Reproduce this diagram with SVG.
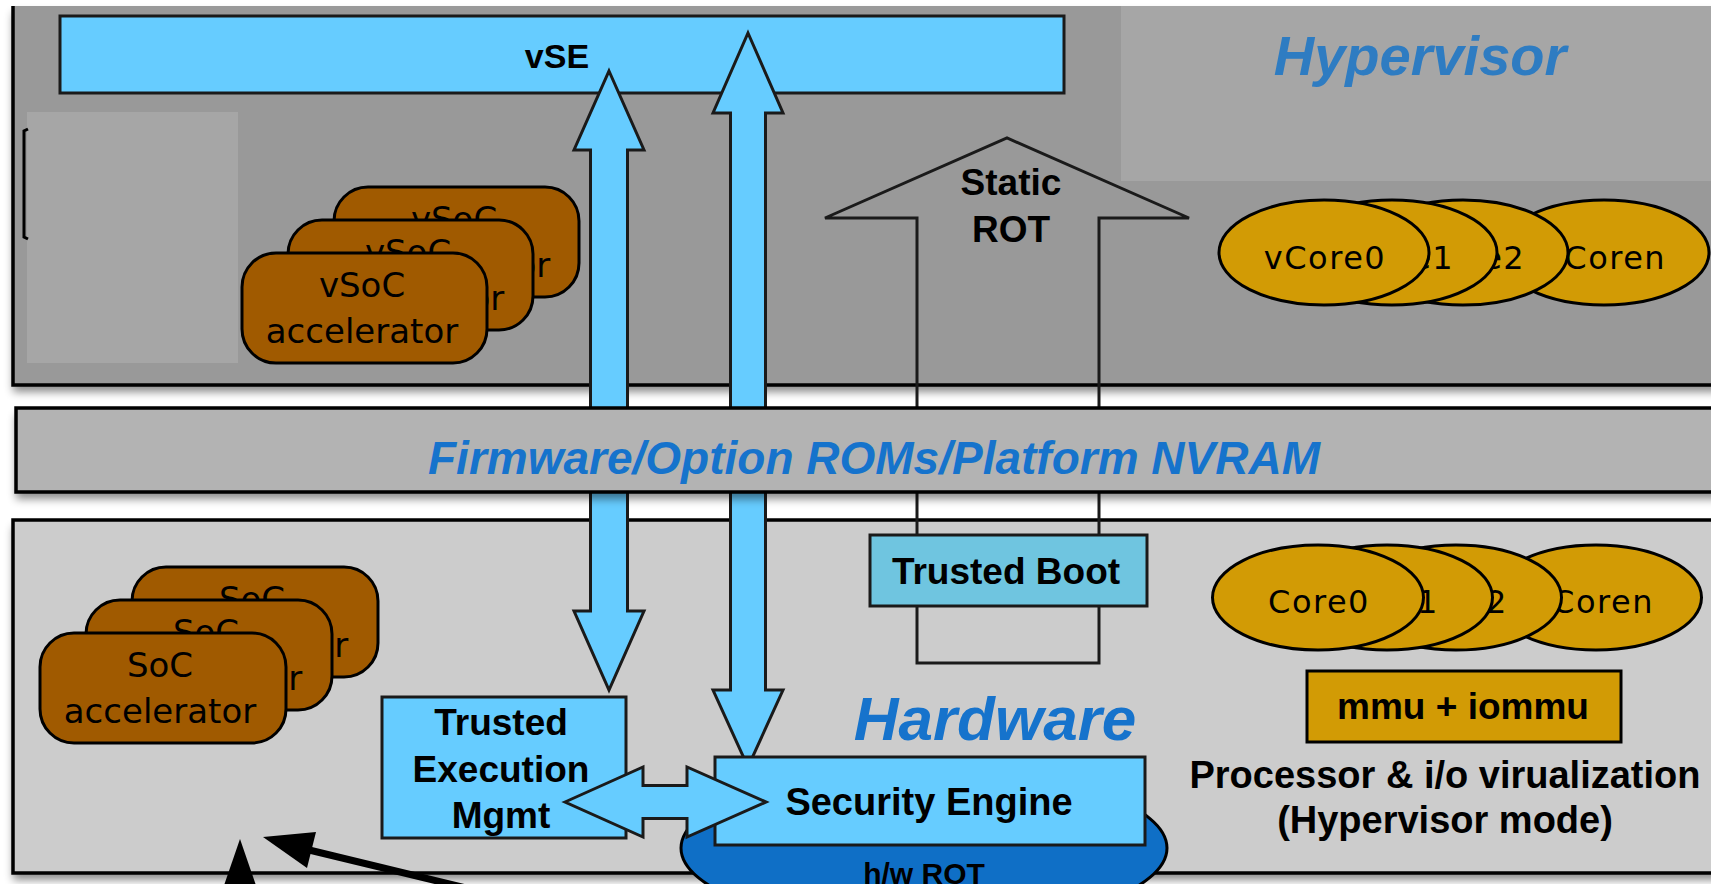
<svg xmlns="http://www.w3.org/2000/svg" width="1711" height="884" viewBox="0 0 1711 884">
  <defs>
    <style>
      .lbl{font-family:"Liberation Sans",Arial,sans-serif;font-weight:bold;fill:#000;text-anchor:middle}
      .title{font-family:"Liberation Sans",Arial,sans-serif;font-weight:bold;font-style:italic;text-anchor:middle}
      .card rect{fill:#A05A00;stroke:#000;stroke-width:3}
      .card text{font-family:"DejaVu Sans",sans-serif;font-size:34px;fill:#000;text-anchor:middle}
      .core ellipse{fill:#D29B05;stroke:#000;stroke-width:3}
      .core text{font-family:"DejaVu Sans",sans-serif;font-size:32px;letter-spacing:1.5px;fill:#000;text-anchor:middle}
      .blue{fill:#66CCFF;stroke:#1a1a1a;stroke-width:3}
      .edge{fill:none;stroke:#000;stroke-width:3.5}
    </style>
    <filter id="shadow" x="-5%" y="-10%" width="110%" height="130%">
      <feDropShadow dx="0" dy="7" stdDeviation="4" flood-color="#000" flood-opacity="0.45"/>
    </filter>
  </defs>

  <rect x="0" y="0" width="1711" height="884" fill="#ffffff"/>

  <!-- Hypervisor layer -->
  <g id="hypervisor-layer">
    <rect x="13" y="6" width="1720" height="379" fill="#999999" filter="url(#shadow)"/>
    <path class="edge" d="M13,6 V385 H1720"/>
    <rect x="27" y="112" width="211" height="251" fill="#a6a6a6"/>
    <rect x="1121" y="6" width="600" height="175" fill="#a6a6a6"/>
    <path d="M28,129 L24,131 V237 L28,239" fill="none" stroke="#000" stroke-width="3"/>
    <text class="title" x="1420" y="75" font-size="56" fill="#2E7CC2">Hypervisor</text>
  </g>

  <!-- Hardware layer -->
  <g id="hardware-layer">
    <rect x="13" y="520" width="1720" height="353" fill="#cccccc" filter="url(#shadow)"/>
    <path class="edge" d="M1720,520 H13 V873 H1720"/>
    <text class="title" x="995" y="740" font-size="62" fill="#1673CC">Hardware</text>
  </g>

  <!-- vSE -->
  <g id="vse">
    <rect class="blue" x="60" y="16" width="1004" height="77"/>
    <text class="lbl" x="557" y="68" font-size="34">vSE</text>
  </g>

  <!-- Static ROT outline arrow -->
  <g id="static-rot">
    <path d="M917,663 V218 H825 L1007,138 L1189,218 H1099 V663 Z" fill="none" stroke="#1a1a1a" stroke-width="3"/>
    <text class="lbl" x="1011" y="195" font-size="37">Static</text>
    <text class="lbl" x="1011" y="242" font-size="37">ROT</text>
  </g>

  <!-- Connectors -->
  <g id="connectors">
    <polygon class="blue" points="609,71 644,150 627.5,150 627.5,611 644,611 609,690 574,611 590.5,611 590.5,150 574,150"/>
    <polygon class="blue" points="748,33 783,113 765.5,113 765.5,690 783,690 748,767 713,690 730.5,690 730.5,113 713,113"/>
  </g>

  <!-- Firmware band -->
  <g id="firmware">
    <rect x="16" y="408" width="1720" height="84" fill="#b3b3b3" filter="url(#shadow)"/>
    <path class="edge" d="M1720,408 H16 V492 H1720"/>
    <text class="title" x="874" y="474" font-size="46" fill="#1673CC">Firmware/Option ROMs/Platform NVRAM</text>
  </g>

  <!-- Trusted Boot -->
  <g id="trusted-boot">
    <rect x="870" y="535" width="277" height="71" fill="#6FC5E0" stroke="#1a1a1a" stroke-width="3"/>
    <text class="lbl" x="1006" y="584" font-size="37">Trusted Boot</text>
  </g>

  <!-- h/w ROT -->
  <g id="hw-rot">
    <ellipse cx="924" cy="848" rx="243" ry="80" fill="#0F6FC6" stroke="#000" stroke-width="3"/>
    <text class="lbl" x="924" y="884" font-size="30">h/w ROT</text>
  </g>

  <!-- Security Engine -->
  <g id="security-engine">
    <rect class="blue" x="715" y="757" width="430" height="88"/>
    <text class="lbl" x="929" y="815" font-size="38">Security Engine</text>
  </g>

  <!-- Trusted Execution Mgmt -->
  <g id="trusted-exec">
    <rect class="blue" x="382" y="697" width="244" height="141"/>
    <text class="lbl" x="501" y="735" font-size="37">Trusted</text>
    <text class="lbl" x="501" y="782" font-size="37">Execution</text>
    <text class="lbl" x="501" y="828" font-size="37">Mgmt</text>
  </g>

  <g id="link-tem-se">
    <polygon class="blue" points="565,802 643,767 643,785.5 687,785.5 687,767 766,802 687,837 687,818.5 643,818.5 643,837"/>
  </g>

  <!-- vSoC accelerators -->
  <g id="vsoc-2" class="card">
    <rect x="334" y="187" width="245" height="110" rx="34"/>
    <text x="454" y="231">vSoC</text>
    <text x="454" y="277">accelerator</text>
  </g>
  <g id="vsoc-1" class="card">
    <rect x="288" y="220" width="245" height="110" rx="34"/>
    <text x="408" y="264">vSoC</text>
    <text x="408" y="310">accelerator</text>
  </g>
  <g id="vsoc-0" class="card">
    <rect x="242" y="253" width="245" height="110" rx="34"/>
    <text x="362" y="297">vSoC</text>
    <text x="362" y="343">accelerator</text>
  </g>

  <!-- SoC accelerators -->
  <g id="soc-2" class="card">
    <rect x="132" y="567" width="246" height="110" rx="34"/>
    <text x="252" y="611">SoC</text>
    <text x="252" y="657">accelerator</text>
  </g>
  <g id="soc-1" class="card">
    <rect x="86" y="600" width="246" height="110" rx="34"/>
    <text x="206" y="644">SoC</text>
    <text x="206" y="690">accelerator</text>
  </g>
  <g id="soc-0" class="card">
    <rect x="40" y="633" width="246" height="110" rx="34"/>
    <text x="160" y="677">SoC</text>
    <text x="160" y="723">accelerator</text>
  </g>

  <!-- Virtual cores -->
  <g id="vcore-n" class="core">
    <ellipse cx="1604" cy="252.5" rx="105" ry="52.5"/>
    <text x="1605" y="269">vCoren</text>
  </g>
  <g id="vcore-2" class="core">
    <ellipse cx="1463" cy="252.5" rx="105" ry="52.5"/>
    <text x="1464" y="269">vCore2</text>
  </g>
  <g id="vcore-1" class="core">
    <ellipse cx="1392" cy="252.5" rx="105" ry="52.5"/>
    <text x="1393" y="269">vCore1</text>
  </g>
  <g id="vcore-0" class="core">
    <ellipse cx="1324" cy="252.5" rx="105" ry="52.5"/>
    <text x="1325" y="269">vCore0</text>
  </g>

  <!-- Physical cores -->
  <g id="core-n" class="core">
    <ellipse cx="1596" cy="597.5" rx="105.5" ry="52.5"/>
    <text x="1603" y="613">Coren</text>
  </g>
  <g id="core-2" class="core">
    <ellipse cx="1456" cy="597.5" rx="105.5" ry="52.5"/>
    <text x="1457" y="613">Core2</text>
  </g>
  <g id="core-1" class="core">
    <ellipse cx="1387" cy="597.5" rx="105.5" ry="52.5"/>
    <text x="1388" y="613">Core1</text>
  </g>
  <g id="core-0" class="core">
    <ellipse cx="1318" cy="597.5" rx="105.5" ry="52.5"/>
    <text x="1319" y="613">Core0</text>
  </g>

  <!-- MMU -->
  <g id="mmu">
    <rect x="1307" y="671" width="314" height="71" fill="#D29B05" stroke="#000" stroke-width="3"/>
    <text class="lbl" x="1463" y="719" font-size="37">mmu + iommu</text>
  </g>

  <g id="virt-caption">
    <text class="lbl" x="1445" y="788" font-size="38">Processor &amp; i/o virualization</text>
    <text class="lbl" x="1445" y="833" font-size="38">(Hypervisor mode)</text>
  </g>

  <!-- Black pointers at lower left -->
  <g id="pointers" fill="#000" stroke="#000">
    <line x1="240" y1="880" x2="240" y2="930" stroke-width="7"/>
    <polygon points="240,839 220,897 260,897" stroke="none"/>
    <line x1="305" y1="849" x2="495" y2="895" stroke-width="7"/>
    <polygon points="263,837 316,832 307,868" stroke="none"/>
  </g>
</svg>
